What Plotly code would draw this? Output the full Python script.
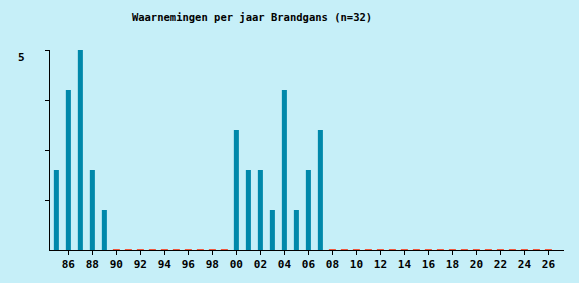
import plotly.graph_objects as go

years = list(range(1985, 2027))
counts = [2, 4, 5, 2, 1,
          0, 0, 0, 0, 0, 0, 0, 0, 0, 0,
          3, 2, 2, 1, 4, 1, 2, 3,
          0, 0, 0, 0, 0, 0, 0, 0, 0, 0, 0, 0, 0, 0, 0, 0, 0, 0, 0]
x_tick_years = list(range(1986, 2027, 2))
x_tick_labels = ["%02d" % (y % 100) for y in x_tick_years]
y_tick_vals = [1.25, 2.5, 3.75, 5]
y_label_val = 5
y_label_text = "5"

BG = "#C6EFF8"
BAR = "#0088AA"
FONT = "DejaVu Sans Mono"

zero_years = [y for y, c in zip(years, counts) if c == 0]
zero_counts = [c for c in counts if c == 0]

fig = go.Figure()
fig.add_trace(go.Bar(
    x=years, y=counts, width=0.42,
    marker=dict(color=BAR, line=dict(width=0)),
))
fig.add_trace(go.Scatter(
    x=zero_years, y=zero_counts, mode="markers", cliponaxis=False,
    marker=dict(symbol="line-ew-open", size=5, line=dict(color=BAR, width=2)),
))

fig.update_layout(
    width=579, height=283,
    margin=dict(l=50, r=15, t=50, b=33, autoexpand=False),
    paper_bgcolor=BG, plot_bgcolor=BG,
    showlegend=False,
    title=dict(text="<b>Waarnemingen per jaar Brandgans (n=32)</b>",
               x=252 / 579, xanchor="center", y=1 - 17 / 283, yanchor="middle",
               font=dict(family=FONT, size=10.5, color="black")),
    font=dict(family=FONT, color="black"),
    annotations=[dict(
        x=0, xref="paper", xanchor="right", xshift=-23,
        y=y_label_val, yref="y", yanchor="middle", yshift=-7,
        text="<b>%s</b>" % y_label_text, showarrow=False,
        font=dict(family=FONT, size=11, color="black"),
    )],
)
fig.update_xaxes(
    range=[1984.47, 2027.3], automargin=False, tickangle=0,
    tickmode="array", tickvals=x_tick_years,
    ticktext=["<b>%s</b>" % t for t in x_tick_labels],
    ticks="outside", ticklen=4, tickcolor="black", tickwidth=1,
    showline=True, linecolor="black", linewidth=1,
    showgrid=False, zeroline=False,
    tickfont=dict(family=FONT, size=11, color="black"),
)
fig.update_yaxes(
    range=[0, 5], automargin=False,
    tickmode="array", tickvals=y_tick_vals,
    ticktext=["" for _ in y_tick_vals],
    ticks="outside", ticklen=4, tickcolor="black", tickwidth=1,
    showline=True, linecolor="black", linewidth=1,
    showgrid=False, zeroline=False,
)

fig.write_html("out.html")
